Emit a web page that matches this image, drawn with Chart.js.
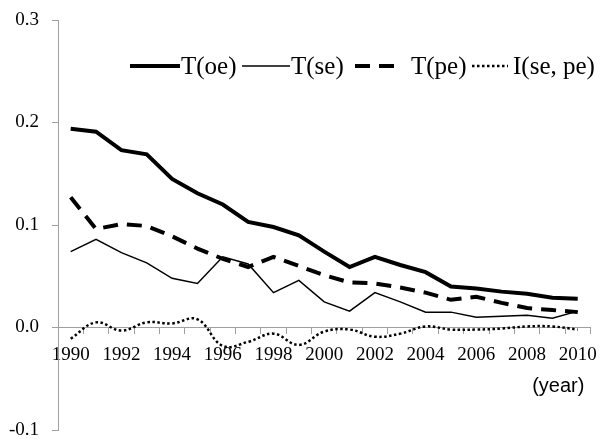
<!DOCTYPE html>
<html>
<head>
<meta charset="utf-8">
<script src="https://cdn.jsdelivr.net/npm/chart.js@4.4.1/dist/chart.umd.min.js"></script>
<style>
  html, body { margin: 0; padding: 0; background: #fff; }
  #wrap { width: 607px; height: 439px; position: relative; }
</style>
</head>
<body>
<div id="wrap"><canvas id="c"></canvas></div>
<script>
// ── Data ──────────────────────────────────────────────────────────────
const years = [1990, 1991, 1992, 1993, 1994, 1995, 1996, 1997, 1998, 1999, 2000,
               2001, 2002, 2003, 2004, 2005, 2006, 2007, 2008, 2009, 2010];
const tOE = [0.194, 0.191, 0.173, 0.169, 0.145, 0.131, 0.120, 0.103, 0.098, 0.090, 0.074,
             0.059, 0.069, 0.061, 0.054, 0.040, 0.038, 0.035, 0.033, 0.029, 0.028];
const tSE = [0.074, 0.086, 0.073, 0.063, 0.048, 0.043, 0.069, 0.062, 0.034, 0.046, 0.025,
             0.016, 0.034, 0.025, 0.015, 0.015, 0.010, 0.011, 0.012, 0.009, 0.016];
const tPE = [0.127, 0.096, 0.101, 0.099, 0.089, 0.077, 0.067, 0.059, 0.069, 0.060, 0.051,
             0.044, 0.043, 0.039, 0.034, 0.027, 0.030, 0.024, 0.019, 0.017, 0.015];
const iSEPE = [-0.011, 0.005, -0.003, 0.005, 0.004, 0.008, -0.018, -0.014, -0.006, -0.017, -0.004,
               -0.002, -0.009, -0.006, 0.001, -0.002, -0.002, -0.001, 0.001, 0.001, -0.002];
const seriesNames = ['T(oe)', 'T(se)', 'T(pe)', 'I(se, pe)'];
const yTicks = [-0.1, 0.0, 0.1, 0.2, 0.3];
const xTitle = '(year)';

const SERIF = "'Liberation Serif', 'Times New Roman', serif";
const AXIS = '#a0a0a0';

// legend placement (symbol start, symbol length, text start)
const legendLayout = [
  { x: 130, len: 50, tx: 181 },
  { x: 242, len: 48, tx: 291 },
  { x: 355, len: 39, tx: 411 },
  { x: 472, len: 36, tx: 513 }
];

const legendAndTitle = {
  id: 'legendAndTitle',
  afterDraw(chart) {
    const ctx = chart.ctx;
    const y = 66;
    ctx.save();
    chart.data.datasets.forEach((ds, i) => {
      const L = legendLayout[i];
      ctx.beginPath();
      ctx.strokeStyle = ds.borderColor;
      ctx.lineWidth = ds.borderWidth;
      ctx.setLineDash(ds.borderDash || []);
      ctx.lineCap = 'butt';
      ctx.moveTo(L.x, y);
      ctx.lineTo(L.x + L.len, y);
      ctx.stroke();
      ctx.setLineDash([]);
      ctx.fillStyle = '#000';
      ctx.font = '25px ' + SERIF;
      ctx.textBaseline = 'middle';
      ctx.textAlign = 'left';
      ctx.fillText(ds.label, L.tx, y + 1);
    });
    // axis unit label under the x axis
    const x = chart.scales.x;
    const y0 = chart.scales.y.getPixelForValue(0);
    ctx.font = "20px 'Liberation Sans', Arial, sans-serif";
    ctx.textAlign = 'right';
    ctx.textBaseline = 'middle';
    ctx.fillText(xTitle, x.right - 6, y0 + 59);
    ctx.restore();
  }
};

new Chart(document.getElementById('c'), {
  type: 'line',
  data: {
    labels: years.map(String),
    datasets: [
      { label: seriesNames[0], data: tOE, borderColor: '#000', borderWidth: 4, pointRadius: 0, tension: 0, fill: false },
      { label: seriesNames[1], data: tSE, borderColor: '#000', borderWidth: 1.5, pointRadius: 0, tension: 0, fill: false },
      { label: seriesNames[2], data: tPE, borderColor: '#000', borderWidth: 4, borderDash: [15, 9], pointRadius: 0, tension: 0, fill: false },
      { label: seriesNames[3], data: iSEPE, borderColor: '#000', borderWidth: 2.5, borderDash: [2.5, 2.5], pointRadius: 0, tension: 0.4, fill: false }
    ]
  },
  options: {
    responsive: true,
    maintainAspectRatio: false,
    animation: false,
    layout: { padding: { left: 0, right: 11, top: 20, bottom: 9 } },
    plugins: { legend: { display: false }, tooltip: { enabled: false } },
    scales: {
      x: {
        type: 'category',
        offset: true,
        position: { y: 0 },
        grid: { drawOnChartArea: false, offset: true, tickLength: 6, color: AXIS },
        border: { color: AXIS, width: 1 },
        ticks: {
          autoSkip: false,
          maxRotation: 0,
          padding: 10,
          color: '#000',
          font: { family: SERIF, size: 19 },
          callback: (v, i) => (i % 2 === 0 ? String(years[i]) : '')
        },
        afterFit(s) { s.height = 0; }
      },
      y: {
        min: yTicks[0],
        max: yTicks[yTicks.length - 1],
        afterBuildTicks(s) { s.ticks = yTicks.map(v => ({ value: v })); },
        grid: { drawOnChartArea: false, tickLength: 6, color: AXIS },
        border: { color: AXIS, width: 1 },
        ticks: {
          padding: 13,
          color: '#000',
          font: { family: SERIF, size: 19, lineHeight: 1 },
          callback: v => Number(v).toFixed(1)
        },
        afterFit(s) { s.width = 58; s.paddingTop = 0; s.paddingBottom = 0; }
      }
    }
  },
  plugins: [legendAndTitle]
});
</script>
</body>
</html>
